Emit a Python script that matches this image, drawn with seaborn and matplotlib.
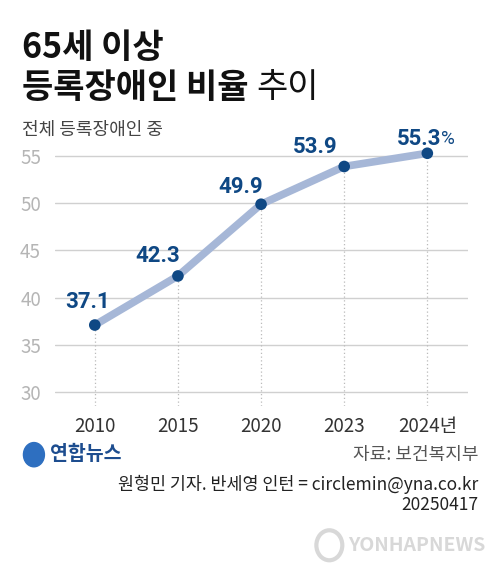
import matplotlib
matplotlib.use("Agg")
import matplotlib.pyplot as plt
import seaborn as sns
import pandas as pd

# 데이터
years = ["2010", "2015", "2020", "2023", "2024년"]
ratios = [37.1, 42.3, 49.9, 53.9, 55.3]
value_labels = ["37.1", "42.3", "49.9", "53.9", "55.3"]
# 라벨 위치 (pixels, 점 기준)
label_offsets = [(-7, 23), (-20, 20), (-20, 17), (-29, 19), (-8, 14)]
yticks = [30, 35, 40, 45, 50, 55]

df = pd.DataFrame({"year": years, "ratio": ratios})
df["x"] = range(len(df))

sns.set_theme(style="white")
plt.rcParams["font.family"] = ["Noto Sans CJK KR", "DejaVu Sans"]
num_font = ["Roboto", "Noto Sans CJK KR"]

fig = plt.figure(figsize=(4.99, 5.77), dpi=100)
ax = fig.add_axes([0.110, 0.296, 0.828, 0.458])

navy = "#0f4884"
line_c = "#a6b7d7"

# 가로 그리드
for t in yticks:
    ax.axhline(t, color="#d0d0d0", lw=1.0, zorder=0)

# 점에서 아래로 점선
for xi, v in zip(df["x"], df["ratio"]):
    ax.plot([xi, xi], [28.5, v], color="#bbbbbb", lw=0.9, ls=(0, (1, 2)), zorder=1)

sns.lineplot(data=df, x="x", y="ratio", ax=ax, color=line_c, lw=5.5,
             solid_capstyle="round", zorder=2)
sns.scatterplot(data=df, x="x", y="ratio", ax=ax, color=navy, s=70,
                edgecolor="none", zorder=3)

for i, (xi, v) in enumerate(zip(df["x"], df["ratio"])):
    dx, dy = label_offsets[i]
    ax.annotate(value_labels[i], (xi, v), xytext=(dx, dy), textcoords="offset pixels",
                ha="center", va="center", fontsize=16, fontweight="bold", color=navy,
                family=num_font)
# % 기호
ax.annotate("%", (df["x"].iloc[-1], ratios[-1]), xytext=(14, 14), textcoords="offset pixels",
            ha="left", va="center", fontsize=13.5, color=navy, family=num_font)

ax.set_xlim(-0.48, 4.49)
ax.set_ylim(28.5, 56.5)
ax.set_yticks(yticks)
ax.set_yticklabels([str(t) for t in yticks], color="#b5b5b5", fontsize=13.5)
ax.set_xticks(df["x"])
ax.set_xticklabels(years, color="#333333", fontsize=13.5)
ax.tick_params(axis="y", length=0, pad=10)
ax.tick_params(axis="x", length=0, pad=7)
ax.set_xlabel("")
ax.set_ylabel("")
sns.despine(ax=ax, left=True, bottom=True)
ax.patch.set_alpha(0)

# 제목
fig.text(0.044, 0.918, "65세 이상", fontsize=24.5, fontweight="bold", color="#111111", va="center")
t2 = fig.text(0.044, 0.848, "등록장애인 비율 ", fontsize=24.5, fontweight="bold", color="#111111", va="center")
fig.canvas.draw()
bb = t2.get_window_extent()
fig.text(bb.x1 / fig.bbox.width, 0.848, "추이", fontsize=24.5, color="#111111", va="center")
fig.text(0.044, 0.775, "전체 등록장애인 중", fontsize=13, color="#444444", va="center")

# 하단
fig.text(0.100, 0.212, "연합뉴스", fontsize=14, fontweight="bold", color="#1d4d8f", va="center")
fig.patches.append(plt.Circle((0.068, 0.212), 0.021, transform=fig.transFigure,
                              color="#2e6fc0", figure=fig))
fig.text(0.958, 0.212, "자료: 보건복지부", fontsize=13, color="#555555", va="center", ha="right")
fig.text(0.958, 0.160, "원형민 기자. 반세영 인턴 = circlemin@yna.co.kr", fontsize=12.5,
         color="#222222", va="center", ha="right")
fig.text(0.958, 0.124, "20250417", fontsize=12.5, color="#222222", va="center", ha="right")
fig.patches.append(plt.Circle((0.66, 0.055), 0.026, transform=fig.transFigure,
                              fill=False, lw=3, ec="#d8d8d8", figure=fig))
fig.text(0.972, 0.055, "YONHAPNEWS", fontsize=14, fontweight="bold", fontstyle="italic",
         color="#d8d8d8", va="center", ha="right")

fig.savefig("out.png", dpi=100, facecolor="white")
